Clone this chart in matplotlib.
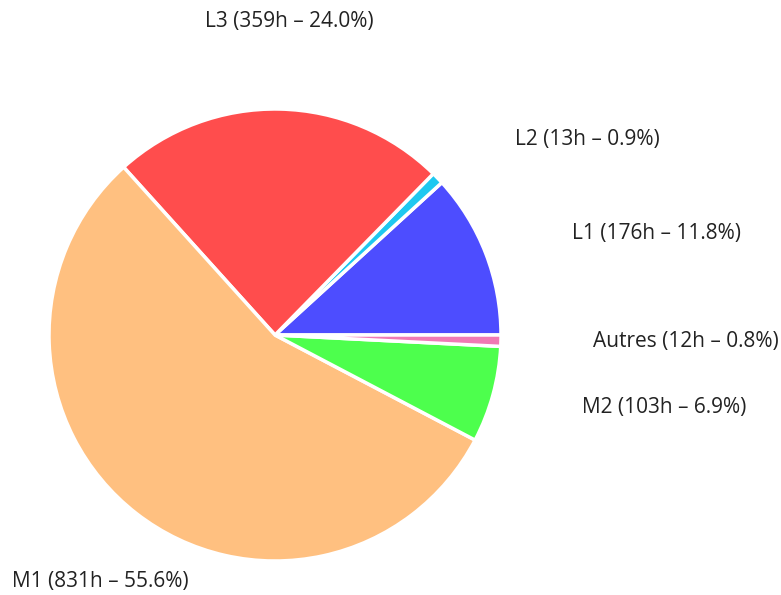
import numpy as np
import matplotlib.pyplot as plt

# hours per category
labels = ["L1", "L2", "L3", "M1", "M2", "Autres"]
hours = [176, 13, 359, 831, 103, 12]
colors = ["#4d4dff", "#1ec8f0", "#ff4d4d", "#ffc080", "#4dff4d", "#f07ab4"]
explode = [0, 0, 0, 0, 0.02, 0.02]

# label anchors in pixels (x from left, y from top) and alignment
label_pos = {
    "L1": (572, 233, "left"),
    "L2": (515, 140, "left"),
    "L3": (289, 22, "center"),
    "M1": (12, 582, "left"),
    "M2": (582, 408, "left"),
    "Autres": (593, 341, "left"),
}

W, H = 781, 595
fig = plt.figure(figsize=(W / 100, H / 100), dpi=100)
ax = fig.add_axes([0, 0, 1, 1])

total = sum(hours)
ax.pie(hours, colors=colors, explode=explode, startangle=0, counterclock=True,
       center=(275, H - 335), radius=226, frame=True,
       wedgeprops=dict(edgecolor="white", linewidth=2.5))
ax.set_xlim(0, W)
ax.set_ylim(0, H)
ax.axis("off")

for name, h in zip(labels, hours):
    x, y, ha = label_pos[name]
    pct = 100 * h / total
    ax.text(x, H - y, f"{name} ({h}h – {pct:.1f}%)", ha=ha, va="center",
            fontsize=15, family=["Open Sans", "DejaVu Sans"], color="#222222")

fig.savefig("out.png", dpi=100)
